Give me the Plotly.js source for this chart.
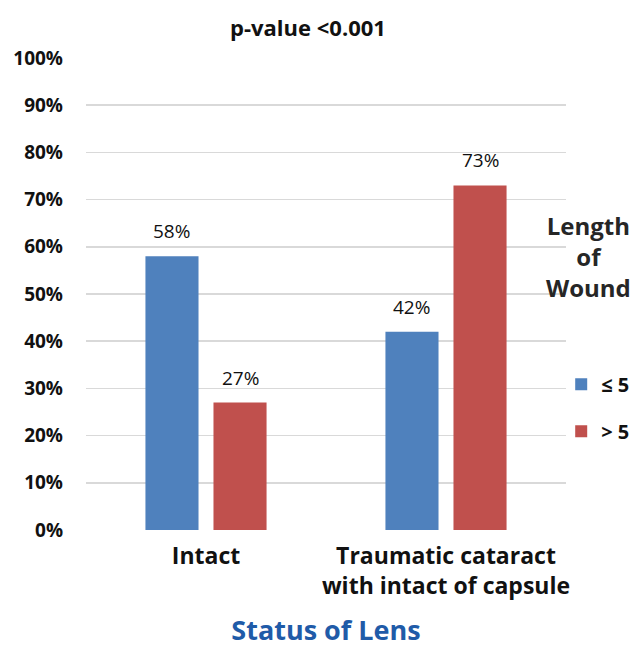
<!DOCTYPE html>
<html>
<head>
<meta charset="utf-8">
<script src="https://cdn.plot.ly/plotly-3.0.1.min.js"></script>
<style>html,body{margin:0;padding:0;background:#fff}</style>
</head>
<body>
<div id="chart" style="width:633px;height:648px"></div>
<script>
const categories = ["Intact", "Traumatic cataract<br>with intact of capsule"];
const seriesNames = ["≤ 5", "> 5"];
const valuesLE5 = [58, 42];
const valuesGT5 = [27, 73];
const yTickVals = [0, 10, 20, 30, 40, 50, 60, 70, 80, 90, 100];
const yTickText = ["0%", "10%", "20%", "30%", "40%", "50%", "60%", "70%", "80%", "90%", "100%"];
const colors = ["#4F81BD", "#C0504D"];

const W = 633, H = 648;
const margin = {l: 86, r: 67, t: 58, b: 118, autoexpand: false};
const bargap = 0.433;
const plotW = W - margin.l - margin.r;
const plotH = H - margin.t - margin.b;
const slot = plotW / categories.length * (1 - bargap) / 2;

const font = "'Open Sans', Lato, sans-serif";
const series = [valuesLE5, valuesGT5];

const traces = series.map((vals, i) => ({
  type: "bar",
  x: categories,
  y: vals,
  name: seriesNames[i],
  legendgroup: "g" + i,
  marker: {color: colors[i], line: {width: 0}},
  hoverinfo: "skip"
}));

const annotations = [];
series.forEach((vals, i) => {
  vals.forEach((v, j) => {
    annotations.push({
      x: categories[j], y: v, xref: "x", yref: "y",
      text: v + "%", showarrow: false,
      xshift: (i === 0 ? -1 : 1) * slot / 2,
      yshift: 25, yanchor: "middle",
      font: {family: font, size: 19, color: "#111", weight: 500}
    });
  });
});
annotations.push({
  xref: "paper", yref: "paper", x: (588 - margin.l) / plotW, y: (530 - 256) / plotH,
  text: "<b>Length<br>of<br>Wound</b>", showarrow: false, align: "center",
  xanchor: "center", yanchor: "middle",
  font: {family: font, size: 24, color: "#262626"}
});

const layout = {
  width: W, height: H,
  margin: margin,
  paper_bgcolor: "#fff", plot_bgcolor: "#fff",
  barmode: "group", bargap: bargap, bargroupgap: 0.22,
  title: {
    text: "<b>p-value <0.001</b>",
    xref: "paper", x: (308 - margin.l) / plotW, xanchor: "center",
    yref: "container", y: 1 - 28 / H, yanchor: "middle",
    font: {family: font, size: 22, color: "#111"}
  },
  xaxis: {
    type: "category",
    showgrid: false, zeroline: false, showline: false, ticks: "",
    tickfont: {family: font, size: 23, color: "#111", weight: "bold"},
    ticklabelstandoff: 10,
    title: {text: "<b>Status of Lens</b>", font: {family: font, size: 27, color: "#1F5BA8"}, standoff: 26}
  },
  yaxis: {
    range: [0, 100], tickvals: yTickVals, ticktext: yTickText,
    showgrid: true, gridcolor: "#D9D9D9", gridwidth: 1.5,
    zeroline: false, showline: false, ticks: "",
    tickfont: {family: font, size: 19, color: "#111", weight: "bold"},
    ticklabelstandoff: 22
  },
  showlegend: true,
  legend: {
    x: 0.99, xanchor: "left", y: 0.35, yanchor: "top",
    traceorder: "grouped", tracegroupgap: 18,
    font: {family: font, size: 20, color: "#111", weight: "bold"},
    bgcolor: "rgba(0,0,0,0)"
  },
  annotations: annotations
};

Plotly.newPlot("chart", traces, layout, {displayModeBar: false, staticPlot: true});
</script>
</body>
</html>
